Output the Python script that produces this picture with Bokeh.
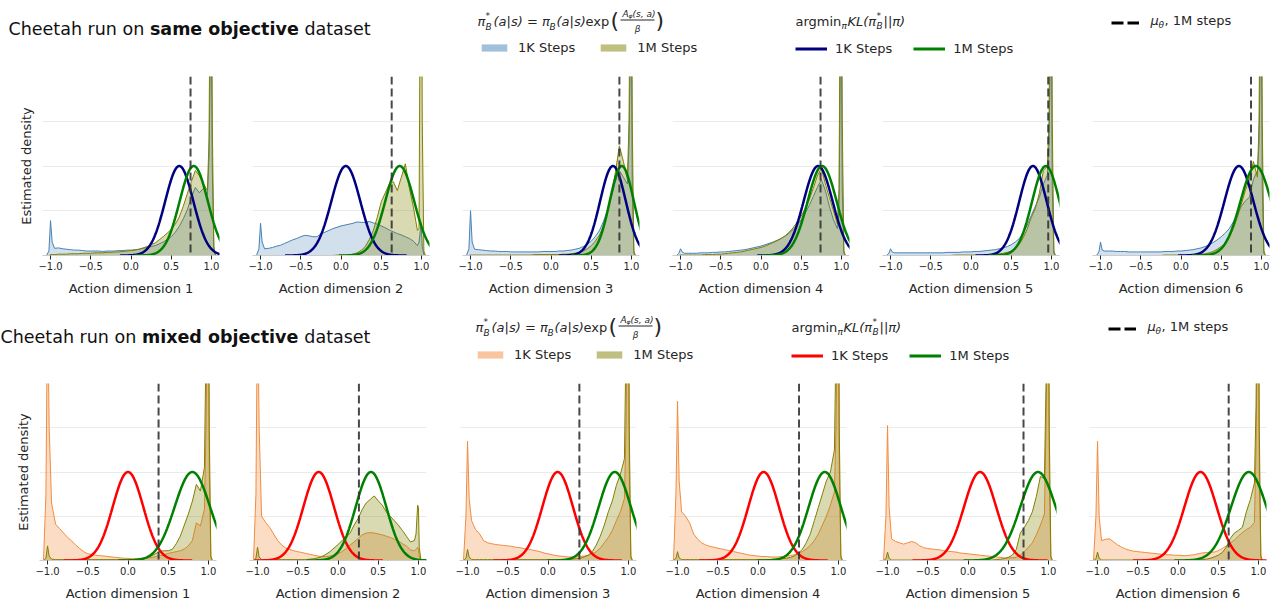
import numpy as np
from bokeh.plotting import figure
from bokeh.models import (Range1d, FixedTicker, Span, Label, Legend, LegendItem,
                          ColumnDataSource, BoxAnnotation)
from bokeh.layouts import column, row
from bokeh.embed import file_html
from bokeh.resources import INLINE

# ---------------------------------------------------------------- data
ACTION_X = [-1.05, -1.02, -1.0, -0.98, -0.95,
            -0.9, -0.85, -0.8, -0.75, -0.7, -0.65, -0.6, -0.55, -0.5,
            -0.45, -0.4, -0.35, -0.3, -0.25, -0.2, -0.15, -0.1, -0.05, 0.0,
            0.05, 0.1, 0.15, 0.2, 0.25, 0.3, 0.35, 0.4, 0.45, 0.5,
            0.55, 0.6, 0.65, 0.7, 0.75, 0.8, 0.85, 0.9, 0.95,
            0.97, 0.99, 1.0, 1.01, 1.03, 1.05]

# same objective dataset, 1K steps (pi_B*)
same_1k_d1 = [0.0, 0.1, 0.78, 0.3, 0.16,
              0.17, 0.15, 0.14, 0.13, 0.12, 0.12, 0.11, 0.1, 0.1,
              0.1, 0.1, 0.09, 0.1, 0.1, 0.1, 0.11, 0.11, 0.12, 0.12,
              0.13, 0.14, 0.16, 0.18, 0.2, 0.22, 0.26, 0.3, 0.36, 0.42,
              0.52, 0.65, 0.82, 1.02, 1.3, 1.52, 1.4, 1.5, 1.35,
              2.2, 5.0, 5.0, 2.0, 0.1, 0.0]
same_1k_d2 = [0.0, 0.15, 0.72, 0.3, 0.15,
              0.16, 0.18, 0.21, 0.23, 0.27, 0.31, 0.35, 0.38, 0.42,
              0.45, 0.44, 0.42, 0.42, 0.48, 0.52, 0.56, 0.6, 0.63, 0.66,
              0.68, 0.7, 0.72, 0.75, 0.74, 0.74, 0.76, 0.73, 0.7, 0.66,
              0.62, 0.57, 0.53, 0.49, 0.46, 0.42, 0.38, 0.32, 0.22,
              0.3, 0.63, 0.55, 0.2, 0.02, 0.0]
same_1k_d3 = [0.0, 0.15, 1.0, 0.3, 0.14,
              0.13, 0.12, 0.11, 0.1, 0.1, 0.09, 0.09, 0.09, 0.08,
              0.08, 0.08, 0.08, 0.08, 0.08, 0.08, 0.08, 0.09, 0.09, 0.09,
              0.09, 0.1, 0.1, 0.11, 0.12, 0.14, 0.16, 0.2, 0.25, 0.32,
              0.42, 0.55, 0.75, 1.0, 1.3, 1.65, 1.9, 1.75, 1.6,
              2.5, 5.0, 5.0, 1.5, 0.05, 0.0]
same_1k_d4 = [0.0, 0.05, 0.15, 0.08, 0.05,
              0.05, 0.05, 0.05, 0.06, 0.06, 0.06, 0.07, 0.07, 0.08,
              0.08, 0.09, 0.1, 0.11, 0.12, 0.13, 0.15, 0.17, 0.19, 0.21,
              0.24, 0.27, 0.3, 0.34, 0.38, 0.43, 0.5, 0.58, 0.68, 0.8,
              0.95, 1.12, 1.32, 1.52, 1.7, 1.45, 1.1, 0.8, 0.6,
              1.0, 5.0, 5.0, 1.5, 0.05, 0.0]
same_1k_d5 = [0.0, 0.05, 0.15, 0.08, 0.06,
              0.06, 0.06, 0.06, 0.06, 0.06, 0.06, 0.06, 0.06, 0.06,
              0.06, 0.06, 0.06, 0.07, 0.07, 0.07, 0.07, 0.08, 0.08, 0.08,
              0.09, 0.09, 0.1, 0.11, 0.12, 0.13, 0.15, 0.17, 0.2, 0.24,
              0.3, 0.38, 0.5, 0.68, 0.9, 1.1, 1.3, 1.6, 1.8,
              2.5, 5.0, 5.0, 1.5, 0.05, 0.0]
same_1k_d6 = [0.0, 0.08, 0.3, 0.12, 0.1,
              0.1, 0.1, 0.09, 0.09, 0.09, 0.08, 0.08, 0.08, 0.08,
              0.08, 0.08, 0.08, 0.08, 0.08, 0.09, 0.09, 0.09, 0.1, 0.1,
              0.11, 0.12, 0.13, 0.15, 0.17, 0.2, 0.24, 0.29, 0.35, 0.42,
              0.5, 0.6, 0.75, 0.92, 1.1, 1.22, 1.3, 1.7, 1.9,
              2.5, 5.0, 5.0, 1.5, 0.05, 0.0]

# same objective dataset, 1M steps
same_1m_d1 = [0.0, 0.0, 0.02, 0.02, 0.02,
              0.03, 0.03, 0.03, 0.04, 0.04, 0.04, 0.05, 0.05, 0.05,
              0.06, 0.06, 0.06, 0.07, 0.07, 0.08, 0.08, 0.09, 0.1, 0.11,
              0.12, 0.14, 0.17, 0.2, 0.24, 0.28, 0.35, 0.42, 0.5, 0.58,
              0.7, 0.86, 1.1, 1.38, 1.65, 1.9, 1.78, 1.6, 1.45,
              2.6, 8.0, 8.0, 3.0, 0.2, 0.0]
same_1m_d2 = [0.0, 0.0, 0.0, 0.0, 0.0,
              0.0, 0.0, 0.0, 0.0, 0.0, 0.0, 0.0, 0.0, 0.0,
              0.0, 0.0, 0.0, 0.0, 0.0, 0.0, 0.0, 0.0, 0.01, 0.01,
              0.01, 0.02, 0.03, 0.06, 0.11, 0.2, 0.35, 0.55, 0.85, 1.2,
              1.4, 1.6, 1.65, 1.45, 1.75, 2.05, 1.5, 1.08, 0.56,
              0.6, 8.0, 8.0, 3.0, 0.1, 0.0]
same_1m_d3 = [0.0, 0.0, 0.01, 0.01, 0.01,
              0.01, 0.01, 0.01, 0.01, 0.01, 0.01, 0.01, 0.01, 0.01,
              0.01, 0.01, 0.01, 0.01, 0.01, 0.02, 0.02, 0.02, 0.02, 0.02,
              0.02, 0.02, 0.03, 0.03, 0.04, 0.05, 0.07, 0.1, 0.15, 0.22,
              0.32, 0.45, 0.65, 0.95, 1.35, 1.85, 2.45, 2.1, 1.7,
              3.0, 8.0, 8.0, 3.0, 0.1, 0.0]
same_1m_d4 = [0.0, 0.0, 0.01, 0.01, 0.01,
              0.01, 0.01, 0.01, 0.01, 0.02, 0.02, 0.02, 0.03, 0.03,
              0.04, 0.05, 0.06, 0.07, 0.08, 0.1, 0.12, 0.14, 0.16, 0.18,
              0.21, 0.25, 0.29, 0.33, 0.38, 0.44, 0.52, 0.62, 0.75, 0.88,
              1.05, 1.25, 1.5, 1.78, 1.95, 1.6, 1.3, 1.0, 0.7,
              1.5, 8.0, 8.0, 3.0, 0.1, 0.0]
same_1m_d5 = [0.0, 0.0, 0.0, 0.0, 0.0,
              0.0, 0.0, 0.0, 0.0, 0.0, 0.0, 0.0, 0.0, 0.0,
              0.0, 0.0, 0.0, 0.0, 0.0, 0.01, 0.01, 0.01, 0.01, 0.01,
              0.01, 0.01, 0.01, 0.02, 0.02, 0.03, 0.04, 0.05, 0.07, 0.1,
              0.15, 0.25, 0.4, 0.6, 0.85, 1.05, 1.4, 1.9, 2.0,
              3.0, 8.0, 8.0, 3.0, 0.1, 0.0]
same_1m_d6 = [0.0, 0.0, 0.0, 0.0, 0.0,
              0.0, 0.0, 0.0, 0.0, 0.0, 0.0, 0.0, 0.0, 0.0,
              0.0, 0.0, 0.0, 0.0, 0.0, 0.01, 0.01, 0.01, 0.01, 0.01,
              0.01, 0.01, 0.02, 0.02, 0.03, 0.04, 0.06, 0.09, 0.14, 0.2,
              0.28, 0.4, 0.6, 0.85, 1.15, 1.45, 1.7, 2.1, 1.75,
              3.0, 8.0, 8.0, 3.0, 0.1, 0.0]

# mixed objective dataset, 1K steps
mixed_1k_d1 = [0.0, 1.5, 6.0, 3.0, 1.3,
               0.82, 0.72, 0.62, 0.52, 0.44, 0.35, 0.27, 0.2, 0.15,
               0.14, 0.12, 0.11, 0.1, 0.09, 0.08, 0.07, 0.06, 0.05, 0.05,
               0.04, 0.04, 0.05, 0.05, 0.06, 0.07, 0.09, 0.11, 0.13, 0.16,
               0.18, 0.2, 0.22, 0.26, 0.33, 0.45, 0.85, 0.78, 1.16,
               3.0, 6.0, 6.0, 2.0, 0.05, 0.0]
mixed_1k_d2 = [0.0, 1.5, 6.0, 3.0, 1.0,
               0.86, 0.75, 0.6, 0.45, 0.35, 0.28, 0.25, 0.22, 0.2,
               0.18, 0.16, 0.14, 0.12, 0.1, 0.09, 0.09, 0.1, 0.12, 0.15,
               0.2, 0.27, 0.35, 0.42, 0.5, 0.58, 0.62, 0.63, 0.62, 0.6,
               0.58, 0.55, 0.52, 0.48, 0.44, 0.38, 0.33, 0.24, 0.22,
               0.25, 0.3, 0.25, 0.08, 0.01, 0.0]
mixed_1k_d3 = [0.0, 1.0, 2.7, 1.4, 0.9,
               0.7, 0.6, 0.45, 0.4, 0.38, 0.36, 0.35, 0.34, 0.33,
               0.32, 0.3, 0.29, 0.27, 0.26, 0.24, 0.22, 0.2, 0.17, 0.15,
               0.13, 0.11, 0.1, 0.09, 0.08, 0.08, 0.08, 0.09, 0.1, 0.12,
               0.15, 0.2, 0.28, 0.4, 0.52, 0.68, 0.9, 1.1, 1.4,
               3.0, 6.0, 6.0, 2.0, 0.05, 0.0]
mixed_1k_d4 = [0.0, 1.5, 3.6, 1.8, 1.1,
               1.0, 0.85, 0.6, 0.48, 0.4, 0.35, 0.32, 0.3, 0.28,
               0.26, 0.24, 0.22, 0.2, 0.18, 0.16, 0.14, 0.12, 0.11, 0.1,
               0.09, 0.09, 0.08, 0.08, 0.08, 0.09, 0.1, 0.11, 0.13, 0.16,
               0.2, 0.26, 0.34, 0.45, 0.6, 0.8, 1.0, 1.25, 1.55,
               3.0, 6.0, 6.0, 2.0, 0.05, 0.0]
mixed_1k_d5 = [0.0, 1.0, 3.05, 1.2, 0.49,
               0.43, 0.4, 0.37, 0.4, 0.43, 0.4, 0.33, 0.29, 0.27,
               0.26, 0.25, 0.24, 0.22, 0.21, 0.2, 0.19, 0.17, 0.16, 0.15,
               0.14, 0.13, 0.12, 0.11, 0.1, 0.09, 0.08, 0.07, 0.06, 0.06,
               0.06, 0.07, 0.12, 0.2, 0.3, 0.4, 0.58, 0.8, 1.05,
               3.0, 6.0, 6.0, 2.0, 0.05, 0.0]
mixed_1k_d6 = [0.0, 1.0, 2.7, 1.0, 0.45,
               0.48, 0.49, 0.42, 0.35, 0.3, 0.26, 0.23, 0.21, 0.2,
               0.19, 0.18, 0.17, 0.16, 0.15, 0.14, 0.13, 0.13, 0.12, 0.12,
               0.11, 0.11, 0.12, 0.13, 0.15, 0.17, 0.18, 0.19, 0.19, 0.22,
               0.27, 0.33, 0.4, 0.46, 0.55, 0.63, 0.7, 0.75, 0.86,
               2.5, 6.0, 6.0, 2.0, 0.05, 0.0]

# mixed objective dataset, 1M steps
mixed_1m_d1 = [0.0, 0.05, 0.33, 0.1, 0.03,
               0.02, 0.02, 0.02, 0.02, 0.02, 0.02, 0.02, 0.02, 0.02,
               0.02, 0.02, 0.02, 0.02, 0.02, 0.02, 0.02, 0.02, 0.02, 0.02,
               0.02, 0.03, 0.04, 0.05, 0.07, 0.11, 0.16, 0.21, 0.22, 0.22,
               0.25, 0.38, 0.55, 0.8, 1.05, 1.34, 1.72, 1.57, 2.1,
               5.0, 8.0, 8.0, 3.0, 0.1, 0.0]
mixed_1m_d2 = [0.0, 0.05, 0.3, 0.08, 0.02,
               0.02, 0.02, 0.02, 0.02, 0.02, 0.02, 0.02, 0.02, 0.02,
               0.02, 0.02, 0.03, 0.04, 0.06, 0.09, 0.14, 0.2, 0.28, 0.36,
               0.45, 0.52, 0.62, 0.8, 0.95, 1.15, 1.3, 1.38, 1.46, 1.35,
               1.25, 1.1, 1.0, 0.9, 0.8, 0.68, 0.55, 0.42, 0.45,
               0.6, 1.25, 1.2, 0.3, 0.02, 0.0]
mixed_1m_d3 = [0.0, 0.05, 0.25, 0.08, 0.02,
               0.02, 0.02, 0.02, 0.02, 0.02, 0.02, 0.02, 0.02, 0.02,
               0.02, 0.02, 0.02, 0.02, 0.02, 0.02, 0.02, 0.02, 0.02, 0.02,
               0.02, 0.02, 0.02, 0.02, 0.03, 0.03, 0.04, 0.05, 0.08, 0.12,
               0.2, 0.35, 0.55, 0.8, 1.1, 1.35, 1.7, 1.95, 2.3,
               5.0, 8.0, 8.0, 3.0, 0.1, 0.0]
mixed_1m_d4 = [0.0, 0.05, 0.2, 0.06, 0.02,
               0.02, 0.02, 0.02, 0.02, 0.02, 0.02, 0.02, 0.02, 0.02,
               0.02, 0.02, 0.02, 0.02, 0.02, 0.02, 0.02, 0.02, 0.02, 0.02,
               0.02, 0.02, 0.02, 0.03, 0.03, 0.04, 0.05, 0.07, 0.1, 0.16,
               0.25, 0.4, 0.6, 0.9, 1.2, 1.5, 1.8, 2.0, 2.5,
               5.0, 8.0, 8.0, 3.0, 0.1, 0.0]
mixed_1m_d5 = [0.0, 0.04, 0.19, 0.05, 0.01,
               0.01, 0.01, 0.01, 0.01, 0.01, 0.01, 0.01, 0.01, 0.01,
               0.01, 0.01, 0.01, 0.01, 0.01, 0.01, 0.01, 0.01, 0.01, 0.01,
               0.01, 0.01, 0.01, 0.01, 0.01, 0.01, 0.02, 0.03, 0.04, 0.07,
               0.12, 0.25, 0.62, 0.75, 0.9, 1.1, 1.45, 1.9, 1.85,
               4.0, 8.0, 8.0, 3.0, 0.1, 0.0]
mixed_1m_d6 = [0.0, 0.04, 0.19, 0.05, 0.01,
               0.01, 0.01, 0.01, 0.01, 0.01, 0.01, 0.01, 0.01, 0.01,
               0.01, 0.01, 0.01, 0.01, 0.01, 0.01, 0.01, 0.01, 0.01, 0.01,
               0.01, 0.01, 0.01, 0.01, 0.01, 0.02, 0.03, 0.05, 0.08, 0.12,
               0.18, 0.3, 0.5, 0.62, 0.68, 0.75, 1.1, 1.38, 1.75,
               3.5, 8.0, 8.0, 3.0, 0.1, 0.0]

# Gaussian policies argmin KL (mean, std) and mu_theta after 1M steps
SAME_MEAN_1K = [0.60, 0.06, 0.77, 0.71, 0.77, 0.72]
SAME_STD_1K = [0.175, 0.18, 0.16, 0.18, 0.17, 0.18]
SAME_MEAN_1M = [0.78, 0.73, 0.88, 0.76, 0.93, 0.93]
SAME_STD_1M = [0.175, 0.18, 0.15, 0.18, 0.17, 0.19]
SAME_MU_THETA = [0.74, 0.63, 0.85, 0.74, 0.96, 0.87]

MIXED_MEAN_1K = [0.0, -0.24, 0.12, 0.07, 0.15, 0.28]
MIXED_STD_1K = [0.19, 0.19, 0.19, 0.19, 0.2, 0.2]
MIXED_MEAN_1M = [0.80, 0.41, 0.83, 0.83, 0.87, 0.88]
MIXED_STD_1M = [0.22, 0.19, 0.2, 0.2, 0.22, 0.22]
MIXED_MU_THETA = [0.38, 0.26, 0.39, 0.51, 0.69, 0.63]
GAUSS_PEAK = 2.0

X_TICKS = [-1.0, -0.5, 0.0, 0.5, 1.0]
X_TICK_LABELS = ["\u22121.0", "\u22120.5", "0.0", "0.5", "1.0"]
Y_GRID = [1, 2, 3, 4]
DIM_LABELS = ["Action dimension %d" % k for k in range(1, 7)]

SAME_1K = [same_1k_d1, same_1k_d2, same_1k_d3, same_1k_d4, same_1k_d5, same_1k_d6]
SAME_1M = [same_1m_d1, same_1m_d2, same_1m_d3, same_1m_d4, same_1m_d5, same_1m_d6]
MIXED_1K = [mixed_1k_d1, mixed_1k_d2, mixed_1k_d3, mixed_1k_d4, mixed_1k_d5, mixed_1k_d6]
MIXED_1M = [mixed_1m_d1, mixed_1m_d2, mixed_1m_d3, mixed_1m_d4, mixed_1m_d5, mixed_1m_d6]

# ---------------------------------------------------------------- style
FONT = "DejaVu Sans"
TXT = "#262626"
BLUE = "#4682b4"
OLIVE = "#808000"
ORANGE = "#f28c40"
NAVY = "#000080"
GREEN = "#008000"
RED = "#ff0000"
NAN = float("nan")


def gauss(mu, sd):
    xs = np.linspace(mu - 4.2 * sd, mu + 4.2 * sd, 240)
    ys = GAUSS_PEAK * np.exp(-0.5 * ((xs - mu) / sd) ** 2)
    return xs, ys


def make_panel(i, d1k, d1m, m1k, s1k, m1m, s1m, mu_theta, c1k, a1k, g1k,
               width, height, bl, br, bt, bb):
    p = figure(width=width, height=height, x_range=Range1d(-1.1, 1.1),
               y_range=Range1d(0, 4), output_backend="svg", toolbar_location=None,
               title=None, min_border_left=bl, min_border_right=br,
               min_border_top=bt, min_border_bottom=bb)
    p.outline_line_color = None
    p.background_fill_color = "white"
    p.xgrid.visible = False
    p.ygrid.ticker = FixedTicker(ticks=Y_GRID)
    p.ygrid.grid_line_color = "#ebebeb"
    p.ygrid.grid_line_width = 1

    xa = p.xaxis[0]
    xa.ticker = FixedTicker(ticks=X_TICKS)
    xa.major_label_overrides = {t: l for t, l in zip(X_TICKS, X_TICK_LABELS)}
    xa.axis_line_color = "#cccccc"
    xa.major_tick_line_color = TXT
    xa.major_tick_out = 4
    xa.major_tick_in = 0
    xa.minor_tick_line_color = None
    xa.major_label_text_font = FONT
    xa.major_label_text_font_size = "10px"
    xa.major_label_text_color = TXT
    xa.major_label_standoff = 2
    xa.axis_label = DIM_LABELS[i]
    xa.axis_label_text_font = FONT
    xa.axis_label_text_font_size = "13px"
    xa.axis_label_text_font_style = "normal"
    xa.axis_label_text_color = TXT
    xa.axis_label_standoff = 8

    ya = p.yaxis[0]
    if i == 0:
        ya.ticker = FixedTicker(ticks=[])
        ya.axis_line_color = None
        ya.major_tick_line_color = None
        ya.minor_tick_line_color = None
        ya.major_label_standoff = 0
        ya.axis_label = "Estimated density"
        ya.axis_label_text_font = FONT
        ya.axis_label_text_font_size = "13px"
        ya.axis_label_text_font_style = "normal"
        ya.axis_label_text_color = TXT
        ya.axis_label_standoff = 9
    else:
        ya.visible = False

    src = ColumnDataSource(dict(x=ACTION_X, y1k=d1k, y1m=d1m))
    p.varea(x="x", y1=0, y2="y1k", source=src, fill_color=c1k, fill_alpha=a1k)
    p.line(x="x", y="y1k", source=src, line_color=c1k, line_width=1)
    p.varea(x="x", y1=0, y2="y1m", source=src, fill_color=OLIVE, fill_alpha=0.3)
    p.line(x="x", y="y1m", source=src, line_color=OLIVE, line_width=1)

    gx, gy = gauss(m1k, s1k)
    p.line(gx, gy, line_color=g1k, line_width=2.5)
    gx, gy = gauss(m1m, s1m)
    p.line(gx, gy, line_color=GREEN, line_width=2.5)

    p.add_layout(Span(location=mu_theta, dimension="height", line_color="#333333",
                      line_width=2, line_dash="8 4", line_alpha=0.9))
    return p


# ---------------------------------------------------------------- header helpers
def put(fig, x, y, text, size, style="normal", align="left", color=TXT):
    fig.add_layout(Label(x=x, y=y, text=text, text_font=FONT,
                         text_font_size="%spx" % size, text_font_style=style,
                         text_color=color, text_align=align, text_baseline="middle"))


def title_text(fig, x0, y0, bold_words, bold_w):
    put(fig, x0, y0, "Cheetah run on", 17.5, color="#111111")
    put(fig, x0 + 141.4, y0, bold_words, 17.5, "bold", color="#111111")
    put(fig, x0 + 141.4 + bold_w + 5.6, y0, "dataset", 17.5, color="#111111")


def math_pi_star(fig, x0, y0):
    put(fig, x0, y0, "π", 13, "italic")
    put(fig, x0 + 8, y0 - 6, "*", 9)
    put(fig, x0 + 8, y0 + 5, "B", 9, "italic")
    put(fig, x0 + 16, y0, "(a|s) = π", 13, "italic")
    put(fig, x0 + 72, y0 + 5, "B", 9, "italic")
    put(fig, x0 + 79, y0, "(a|s)", 13, "italic")
    put(fig, x0 + 108, y0, "exp", 13)
    put(fig, x0 + 133, y0 - 1, "(", 22)
    put(fig, x0 + 145, y0 - 8, "A", 9, "italic")
    put(fig, x0 + 151, y0 - 6, "φ", 6, "italic")
    put(fig, x0 + 155, y0 - 8, "(s, a)", 9, "italic")
    fig.add_layout(BoxAnnotation(left=x0 + 143, right=x0 + 177, top=y0 - 2, bottom=y0 - 1,
                                 fill_color=TXT, fill_alpha=1, line_color=None))
    put(fig, x0 + 160, y0 + 7, "β", 9, "italic", "center")
    put(fig, x0 + 178, y0 - 1, ")", 22)


def math_argmin(fig, x0, y0):
    put(fig, x0, y0, "argmin", 13)
    put(fig, x0 + 46, y0 + 4, "π", 9, "italic")
    put(fig, x0 + 52, y0, "KL(π", 13, "italic")
    put(fig, x0 + 81, y0 - 6, "*", 9)
    put(fig, x0 + 81, y0 + 4, "B", 9, "italic")
    put(fig, x0 + 88, y0, "||π)", 13, "italic")


def math_mu(fig, x0, y0):
    put(fig, x0, y0, "μ", 13, "italic")
    put(fig, x0 + 8, y0 + 4, "θ", 9, "italic")
    put(fig, x0 + 14, y0, ", 1M steps", 13)


def legend_box(fig, items, page_x, center_y, top, height, glyph_w=32, spacing=22):
    leg = Legend(items=items, orientation="horizontal",
                 location=(page_x, height - (center_y - top + 7.5)),
                 glyph_width=glyph_w, glyph_height=9, label_standoff=8, spacing=spacing,
                 padding=0, margin=0, border_line_color=None, background_fill_alpha=0,
                 label_text_font=FONT, label_text_font_size="13px",
                 label_text_color=TXT, label_height=14)
    fig.add_layout(leg)


def make_header(top, height, bold_words, bold_w, fill_1k, line_1k, pos):
    h = figure(width=1270, height=height, x_range=Range1d(0, 1270),
               y_range=Range1d(top + height, top), output_backend="svg",
               toolbar_location=None, title=None, min_border=0,
               x_axis_location=None, y_axis_location=None)
    h.outline_line_color = None
    h.grid.visible = False

    title_text(h, pos["title"][0], pos["title"][1], bold_words, bold_w)
    math_pi_star(h, *pos["math1"])
    math_argmin(h, *pos["math2"])
    math_mu(h, *pos["mu"])

    r_a = h.varea(x=[NAN], y1=[NAN], y2=[NAN], fill_color=fill_1k, fill_alpha=0.5)
    r_b = h.varea(x=[NAN], y1=[NAN], y2=[NAN], fill_color=OLIVE, fill_alpha=0.5)
    legend_box(h, [LegendItem(label="1K Steps", renderers=[r_a]),
                   LegendItem(label="1M Steps", renderers=[r_b])],
               pos["legA"][0], pos["legA"][1], top, height, spacing=22)

    r_c = h.line(x=[NAN], y=[NAN], line_color=line_1k, line_width=3)
    r_d = h.line(x=[NAN], y=[NAN], line_color=GREEN, line_width=3)
    legend_box(h, [LegendItem(label="1K Steps", renderers=[r_c]),
                   LegendItem(label="1M Steps", renderers=[r_d])],
               pos["legB"][0], pos["legB"][1], top, height, spacing=21)

    r_e = h.line(x=[NAN], y=[NAN], line_color="black", line_width=3, line_dash="12 4")
    legend_box(h, [LegendItem(label=" ", renderers=[r_e])],
               pos["legC"][0], pos["legC"][1], top, height, glyph_w=28)
    return h


# page coordinates (no body margin in the Bokeh template)
POS_TOP = dict(title=(8, 28), math1=(477, 21), math2=(795, 21), mu=(1150, 20),
               legA=(478, 47), legB=(795, 48), legC=(1111, 22))
POS_BOT = dict(title=(0, 336), math1=(475, 327), math2=(791, 327), mu=(1147, 326),
               legA=(474, 354), legB=(791, 355), legC=(1108, 328))

header1 = make_header(0, 68, "same objective", 148.9, BLUE, NAVY, POS_TOP)
header2 = make_header(306, 69, "mixed objective", 156.8, ORANGE, RED, POS_BOT)

# ---------------------------------------------------------------- panels
row1 = []
for i in range(6):
    if i == 0:
        w, bl, br = 236, 42, 17
    elif i == 5:
        w, bl, br = 194, 16, 1
    else:
        w, bl, br = 210, 16, 17
    row1.append(make_panel(i, SAME_1K[i], SAME_1M[i], SAME_MEAN_1K[i], SAME_STD_1K[i],
                           SAME_MEAN_1M[i], SAME_STD_1M[i], SAME_MU_THETA[i],
                           BLUE, 0.25, NAVY, w, 238, bl, br, 8, 51))

row2 = []
for i in range(6):
    if i == 0:
        w, bl, br = 233, 39, 17
    elif i == 5:
        w, bl, br = 197, 16, 4
    else:
        w, bl, br = 210, 16, 17
    row2.append(make_panel(i, MIXED_1K[i], MIXED_1M[i], MIXED_MEAN_1K[i], MIXED_STD_1K[i],
                           MIXED_MEAN_1M[i], MIXED_STD_1M[i], MIXED_MU_THETA[i],
                           ORANGE, 0.3, RED, w, 228, bl, br, 8, 43))

layout = column(header1, row(*row1), header2, row(*row2))

with open("out.html", "w", encoding="utf-8") as f:
    f.write(file_html(layout, INLINE))
